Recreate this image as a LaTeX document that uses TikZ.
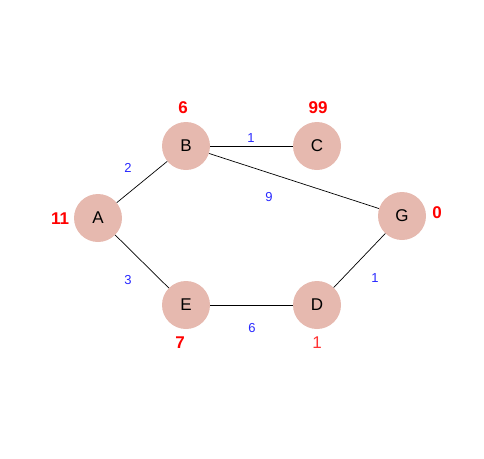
\documentclass[tikz,border=0pt]{standalone}
\usepackage{fontspec}
\setmainfont{Liberation Sans}
\usetikzlibrary{positioning,calc}
\definecolor{nodefill}{RGB}{230,185,175}
\definecolor{hred}{RGB}{255,0,0}
\definecolor{hred2}{RGB}{255,50,50}
\definecolor{wblue}{RGB}{40,40,255}

\begin{document}
\begin{tikzpicture}[x=1pt,y=-1pt,
    vtx/.style={circle,fill=nodefill,minimum size=48pt,inner sep=0pt,font=\fontsize{17}{17}\selectfont},
    heur/.style={text=hred,font=\fontsize{17}{17}\selectfont\bfseries},
    wgt/.style={text=wblue,font=\fontsize{13}{13}\selectfont},
    edge/.style={line width=0.7pt,black},
]
\useasboundingbox (0,0) rectangle (484,458);

\node[vtx] (A) at (98,218) {A};
\node[vtx] (B) at (186,146) {B};
\node[vtx] (C) at (317,146) {C};
\node[vtx] (G) at (402,216) {G};
\node[vtx] (E) at (186,305) {E};
\node[vtx] (D) at (317,305) {D};

\node[heur] (hA) at (60,219) {11};
\node[heur] (hB) at (183,108) {6};
\node[heur] (hC) at (318,108) {99};
\node[heur] (hG) at (437,213) {0};
\node[heur] (hE) at (180,343) {7};
\node[heur,text=hred2,font=\fontsize{17}{17}\selectfont] (hD) at (317,343) {1};

\draw[edge] (A) -- (B); \draw[edge] (B) -- (C); \draw[edge] (B) -- (G);
\draw[edge] (A) -- (E); \draw[edge] (E) -- (D); \draw[edge] (D) -- (G);

\node[wgt] (wAB) at (128,168) {2};
\node[wgt] (wBC) at (251,138) {1};
\node[wgt] (wBG) at (269,197) {9};
\node[wgt] (wAE) at (128,280) {3};
\node[wgt] (wED) at (252,328) {6};
\node[wgt] (wDG) at (375,278) {1};
\end{tikzpicture}
\end{document}
